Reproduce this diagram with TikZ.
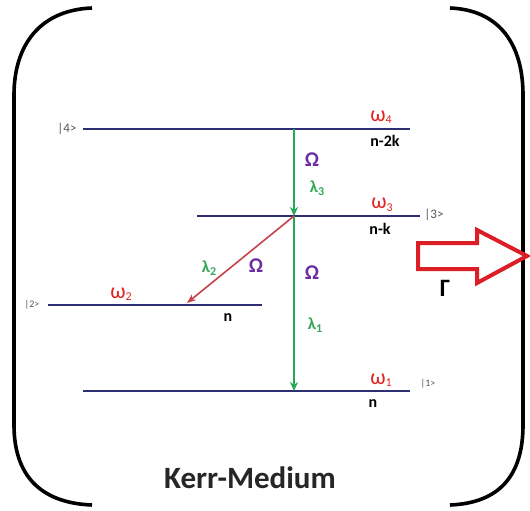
\documentclass[tikz,border=0pt]{standalone}
\usepackage{fontspec}
\setmainfont{Carlito}
\usetikzlibrary{arrows.meta}
\definecolor{lvl}{HTML}{2E2E72}
\definecolor{grn}{HTML}{26A85A}
\definecolor{omr}{HTML}{E02424}
\definecolor{pur}{HTML}{6A2CA0}
\definecolor{lam}{HTML}{35A858}
\definecolor{rarr}{HTML}{C8404A}
\definecolor{fat}{HTML}{DC1F26}
\definecolor{ketc}{HTML}{555555}
\tikzset{
  level/.style={draw=lvl, line width=2.6pt},
  trans/.style={draw=grn, line width=2.6pt, -{Stealth[length=9pt,width=8pt]}},
  ltrans/.style={draw=rarr, line width=1.6pt, -{Stealth[length=9pt,width=7pt]}},
  omlab/.style={text=omr, font=\fontsize{22}{23}\selectfont, inner sep=0pt},
  nlab/.style={text=black, font=\bfseries\fontsize{16}{17}\selectfont, inner sep=0pt},
  Omlab/.style={text=pur, font=\bfseries\fontsize{21}{22}\selectfont, inner sep=0pt},
  lamlab/.style={text=lam, font=\bfseries\fontsize{17}{18}\selectfont, inner sep=0pt},
  ket/.style={text=ketc, font=\fontsize{13}{14}\selectfont, inner sep=0pt},
  brk/.style={draw=black, line width=3.6pt},
}
\newcommand{\sbs}[1]{\raisebox{-2.5pt}{\fontsize{12}{13}\selectfont #1}}
\begin{document}
\begin{tikzpicture}[x=1pt,y=-1pt]
\useasboundingbox (0,0) rectangle (530,511);
% brackets
\draw[brk] (92,8) .. controls (40,10) and (14,45) .. (14,95) -- (14,425) .. controls (14,475) and (40,503) .. (92,505);
\draw[brk] (450,8) .. controls (500,10) and (523,45) .. (523,95) -- (523,425) .. controls (523,475) and (500,503) .. (450,505);
% levels
\coordinate (l4a) at (83,129); \coordinate (l4b) at (410,129);
\coordinate (l3a) at (197,216); \coordinate (l3b) at (420,216);
\coordinate (l2a) at (48,305);  \coordinate (l2b) at (262,305);
\coordinate (l1a) at (83,391);  \coordinate (l1b) at (410,391);
\draw[level] (l4a) -- (l4b);
\draw[level] (l3a) -- (l3b);
\draw[level] (l2a) -- (l2b);
\draw[level] (l1a) -- (l1b);
% transition points
\coordinate (t4) at (294,129);
\coordinate (t3) at (294,216);
\coordinate (t2) at (187,303);
\coordinate (t1) at (294,391);
\draw[trans] (t4) -- (t3);
\draw[trans] (t3) -- (t1);
\draw[ltrans] (t3) -- (t2);
% kets
\node[ket] (k4) at (67,129) {|4>};
\node[ket] (k3) at (434,215) {|3>};
\node[ket, font=\fontsize{10}{11}\selectfont] (k2) at (32,305) {|2>};
\node[ket, font=\fontsize{10}{11}\selectfont] (k1) at (428,384) {|1>};
% omega labels
\node[omlab] (w4) at (381,117) {ω\sbs{4}};
\node[omlab] (w3) at (382,205) {ω\sbs{3}};
\node[omlab] (w2) at (121,294) {ω\sbs{2}};
\node[omlab] (w1) at (381,380) {ω\sbs{1}};
% n labels
\node[nlab] (n4) at (385,141) {n-2k};
\node[nlab] (n3) at (380,229) {n-k};
\node[nlab] (n2) at (228,318) {n};
\node[nlab] (n1) at (373,404) {n};
% Omega labels
\node[Omlab] (O1) at (312,160) {Ω};
\node[Omlab] (O2) at (256,266) {Ω};
\node[Omlab] (O3) at (312,273) {Ω};
% lambda labels
\node[lamlab] (la3) at (317,188) {λ\sbs{3}};
\node[lamlab] (la2) at (209,268) {λ\sbs{2}};
\node[lamlab] (la1) at (315,325) {λ\sbs{1}};
% fat arrow
\draw[draw=fat, line width=4pt, line join=miter, fill=white]
  (418,243) -- (477,243) -- (477,230) -- (527,256) -- (477,283) -- (477,269) -- (418,269) -- cycle;
\node[font=\bfseries\fontsize{25}{26}\selectfont, inner sep=0pt] (G) at (445,288) {Γ};
% title
\node[font=\bfseries\fontsize{31}{32}\selectfont, text=black!85, inner sep=0pt] (title) at (250,478) {Kerr-Medium};
\end{tikzpicture}
\end{document}
